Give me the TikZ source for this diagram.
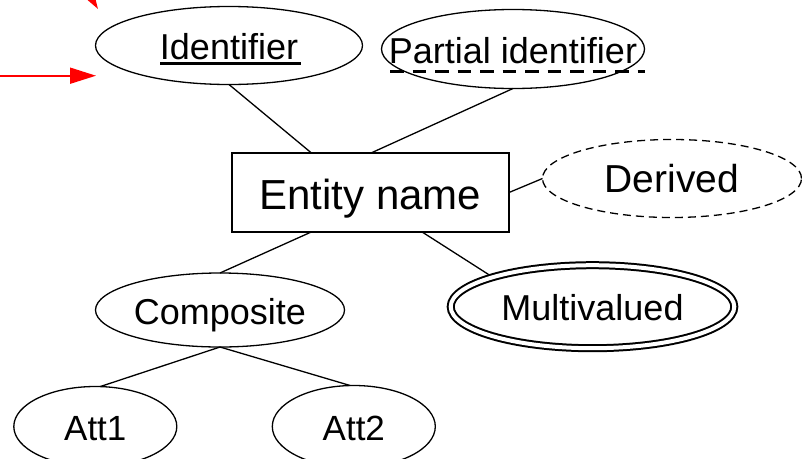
\documentclass[tikz,border=0pt]{standalone}
\usepackage{fontspec}
\setmainfont{Liberation Sans}
\usetikzlibrary{shapes.geometric,arrows.meta,calc}
\begin{document}
\begin{tikzpicture}[x=1pt,y=-1pt,
  attr/.style={ellipse,draw,line width=1.3pt,inner sep=0pt,outer sep=0pt,
    text height=28pt,text depth=0pt,font=\fontsize{36}{40}\selectfont},
  entbox/.style={rectangle,draw,line width=2pt,inner sep=0pt,outer sep=0pt,
    text height=34pt,text depth=0pt,font=\fontsize{42}{46}\selectfont},
  conn/.style={line width=1.3pt},
  redarrow/.style={red,line width=1.8pt,-{Triangle[length=26pt,width=16pt]}}
]
\useasboundingbox (0,0) rectangle (802,458);
\clip (0,0) rectangle (802,458);

% entity
\node[entbox,minimum width=277pt,minimum height=78.5pt] (ent) at (370.5,192.5) {Entity name};

% attributes
\node[attr,minimum width=267pt,minimum height=78pt] (id) at (229,45.5) {\makebox[0pt]{Identifier}};
\node[attr,minimum width=263pt,minimum height=79pt] (par) at (513,49) {\makebox[0pt]{Partial identifier}};
\node[attr,dash pattern=on 8pt off 5pt,minimum width=259pt,minimum height=78pt,
  font=\fontsize{39}{42}\selectfont] (der) at (672,178.5) {\makebox[0pt]{Derived}};
\node[attr,minimum width=249pt,minimum height=74pt] (comp) at (220,310) {\makebox[0pt]{Composite}};
\node[attr,line width=2pt,double,double distance=4pt,outer sep=3pt,
  minimum width=283.6pt,minimum height=83pt] (mv) at (592.5,306.7) {\makebox[0pt]{Multivalued}};
\node[attr,minimum width=163pt,minimum height=80pt,font=\fontsize{35}{40}\selectfont] (att1) at (95.3,426.5) {\makebox[0pt]{Att1}};
\node[attr,minimum width=163pt,minimum height=82pt,font=\fontsize{35}{40}\selectfont] (att2) at (353.8,426.5) {\makebox[0pt]{Att2}};

% underlines
\draw[line width=2.5pt] ($(id.center)+(-69,18)$) -- ($(id.center)+(72,18)$);
\draw[line width=3pt,dash pattern=on 13.5pt off 9pt] ($(par.center)+(-123,22)$) -- ($(par.center)+(132,22)$);

% connectors
\draw[conn] (id.south) -- ($(ent.north west)!0.288!(ent.north east)$);
\draw[conn] (par.south) -- (ent.north);
\draw[conn] (ent.east) -- (der.west);
\draw[conn] ($(ent.south west)!0.288!(ent.south east)$) -- (comp.north);
\draw[conn] ($(ent.south west)!0.685!(ent.south east)$) -- (mv.163);
\draw[conn] (comp.south) -- (att1.83);
\draw[conn] (comp.south) -- (att2.95);

% red arrows
\coordinate (r1a) at (0,75.7);
\coordinate (r1b) at (96,75.7);
\coordinate (r2a) at (18,-120);
\coordinate (r2b) at (98,9);
\draw[redarrow] (r1a) -- (r1b);
\draw[redarrow] (r2a) -- (r2b);
\end{tikzpicture}
\end{document}
